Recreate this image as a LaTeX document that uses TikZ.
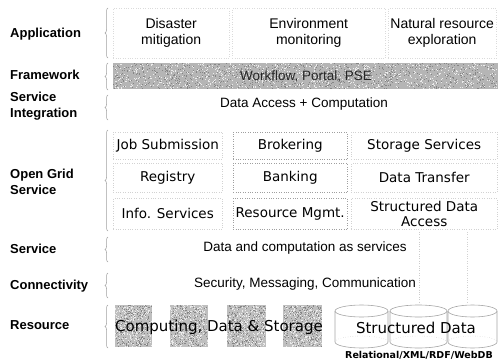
\documentclass[tikz,border=0pt]{standalone}
\usepackage{fontspec}
\setmainfont{Liberation Sans}
\newfontfamily\verd{DejaVu Sans}
\usetikzlibrary{decorations.pathreplacing}

\tikzset{
  layerlabel/.style={anchor=west, align=left, inner sep=0pt,
    font=\bfseries\fontsize{13}{15.5}\selectfont},
  lbrace/.style={draw=gray!75, line width=0.5pt, decorate,
    decoration={brace, amplitude=3pt}},
  appcell/.style={draw=gray!28, dotted, anchor=north west, inner sep=0pt,
    align=center, font=\fontsize{14}{16}\selectfont},
  ogcell/.style={draw=gray!35, dotted, anchor=north west, inner sep=0pt,
    align=center, font=\verd\fontsize{13.5}{15}\selectfont},
  ogmid/.style={ogcell, draw=gray!75},
  bandtext/.style={inner sep=0pt, font=\fontsize{13.5}{15}\selectfont}
}

% scatter light and dark grain over a filled box: x0, y0, width, height, count
\newcommand{\grain}[5]{%
  \foreach \k in {1,...,#5}{%
    \pgfmathsetmacro\gx{#1+(#3-1)*rnd}%
    \pgfmathsetmacro\gy{#2+(#4-1)*rnd}%
    \fill[gray!15] (\gx,\gy) rectangle +(1,1);
    \pgfmathsetmacro\hx{#1+(#3-1)*rnd}%
    \pgfmathsetmacro\hy{#2+(#4-1)*rnd}%
    \fill[gray!95] (\hx,\hy) rectangle +(1,1);
  }}

\begin{document}
\begin{tikzpicture}[x=1pt, y=-1pt]
\useasboundingbox (0,0) rectangle (498,364);
\pgfmathsetseed{7}

% layer names
\node[layerlabel] (lApp)  at (10,34)  {Application};
\node[layerlabel] (lFw)   at (10,75)  {Framework};
\node[layerlabel] (lSI)   at (10,106) {Service\\Integration};
\node[layerlabel] (lOGS)  at (10,182) {Open Grid\\Service};
\node[layerlabel] (lSvc)  at (10,249) {Service};
\node[layerlabel] (lConn) at (10,286) {Connectivity};
\node[layerlabel] (lRes)  at (10,325) {Resource};

% braces grouping each layer
\draw[lbrace] (108,58)  -- (108,8);
\draw[lbrace] (108,90)  -- (108,63);
\draw[lbrace] (108,120) -- (108,95);
\draw[lbrace] (108,231) -- (108,130);
\draw[lbrace] (108,262) -- (108,237);
\draw[lbrace] (108,298) -- (108,273);
\draw[lbrace] (108,348) -- (108,305);

% application layer
\node[appcell, minimum width=116pt, minimum height=50pt] (app1) at (113,8) {Disaster\\mitigation};
\node[appcell, minimum width=153pt, minimum height=50pt] (app2) at (232,8) {Environment\\monitoring};
\node[appcell, minimum width=108pt, minimum height=50pt] (app3) at (388,8) {Natural resource\\exploration};

% framework bar
\fill[gray!58] (113,63) rectangle (498,89);
\grain{113}{63}{385}{26}{900}
\node[bandtext, text=black!85] (fw) at (306,76) {Workflow, Portal, PSE};

% service integration
\node[bandtext] (si) at (304,104) {Data Access + Computation};

% open grid services
\node[ogcell, minimum width=109pt, minimum height=27pt] (c11) at (113,132) {Job Submission};
\node[ogmid,  minimum width=114pt, minimum height=27pt] (c12) at (233,132) {Brokering};
\node[ogcell, minimum width=146pt, minimum height=27pt] (c13) at (351,132) {Storage Services};
\node[ogcell, minimum width=109pt, minimum height=29pt] (c21) at (113,163) {Registry};
\node[ogmid,  minimum width=114pt, minimum height=29pt] (c22) at (233,163) {Banking};
\node[ogcell, minimum width=146pt, minimum height=29pt] (c23) at (351,163) {Data Transfer};
\node[ogcell, minimum width=109pt, minimum height=31pt] (c31) at (113,198) {Info. Services};
\node[ogmid,  minimum width=114pt, minimum height=31pt] (c32) at (233,198) {Resource Mgmt.};
\node[ogcell, minimum width=146pt, minimum height=31pt] (c33) at (351,198) {Structured Data\\Access};

% faint dotted shaft under the structured data cell
\draw[gray!40, dotted] (419,232) -- (419,302);
\draw[gray!35, dotted] (467,232) -- (467,302);

% service and connectivity bands
\node[bandtext] (svc)  at (305,248) {Data and computation as services};
\node[bandtext] (conn) at (305,284) {Security, Messaging, Communication};

% resource layer: grainy boxes
\foreach \sx/\sw in {115/37, 170/38, 227/39, 283/39}{
  \fill[gray!50] (\sx,305) rectangle +(\sw,42);
  \grain{\sx}{305}{\sw}{42}{260}
}
\node[inner sep=0pt, font=\verd\fontsize{15}{17}\selectfont] (cds) at (219,327) {Computing, Data \& Storage};

% structured data stores
\foreach \cx/\rx [count=\n] in {361.5/26.5, 418.5/28.5, 472.5/24.5}{
  \coordinate (cyl\n) at (\cx,326);
  \fill[white] (\cx-\rx,311) -- (\cx-\rx,342) arc[start angle=180, end angle=0, x radius=\rx, y radius=6] -- (\cx+\rx,311) -- cycle;
  \draw[gray!70, line width=0.6pt] (\cx-\rx,311) -- (\cx-\rx,342)
     arc[start angle=180, end angle=0, x radius=\rx, y radius=6] -- (\cx+\rx,311);
  \draw[gray!50, dotted] (\cx-\rx,342) arc[start angle=180, end angle=360, x radius=\rx, y radius=6];
  \draw[gray!70, line width=0.6pt] (\cx,311) ellipse[x radius=\rx, y radius=6];
}
\node[inner sep=0pt, font=\verd\fontsize{15}{17}\selectfont] (sd) at (416,328) {Structured Data};
\node[inner sep=0pt, font=\verd\bfseries\fontsize{9.5}{11}\selectfont] (rel) at (419,355) {Relational/XML/RDF/WebDB};
\end{tikzpicture}
\end{document}
